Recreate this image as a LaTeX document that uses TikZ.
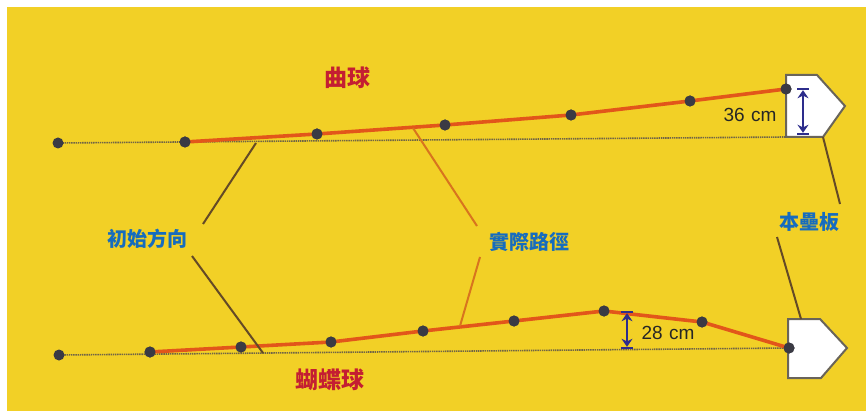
\documentclass[tikz,border=0pt]{standalone}
\usepackage{fontspec}
\setmainfont{Liberation Sans}
\newfontfamily\cjk{Noto Sans CJK TC}
\usetikzlibrary{arrows.meta}
\definecolor{bg}{RGB}{242,208,38}
\definecolor{pathc}{RGB}{226,86,26}
\definecolor{dotc}{RGB}{58,58,68}
\definecolor{guide}{RGB}{112,100,70}
\definecolor{leadb}{RGB}{100,74,38}
\definecolor{leado}{RGB}{216,116,30}
\definecolor{bluet}{RGB}{22,108,190}
\definecolor{redt}{RGB}{196,30,50}
\definecolor{navy}{RGB}{45,45,140}
\definecolor{platec}{RGB}{105,100,90}
\begin{document}
\begin{tikzpicture}[x=1pt,y=-1pt,
  dot/.style={circle,fill=dotc,inner sep=0pt,minimum size=11pt},
  actual/.style={draw=pathc,line width=3.6pt,line cap=round,line join=round},
  guideline/.style={draw=guide,line width=1.6pt,dash pattern=on 1.4pt off 0.8pt},
  leaderb/.style={draw=leadb,line width=2pt},
  leadero/.style={draw=leado,line width=2pt},
  plate/.style={draw=platec,fill=white,line width=2pt,line join=miter},
  meas/.style={draw=navy,line width=2.2pt,{Bar[width=12pt].Stealth[length=8pt,width=11pt]}-{Stealth[length=8pt,width=11pt].Bar[width=12pt]}},
  bluelbl/.style={text=bluet,font=\cjk\bfseries\fontsize{20}{24}\selectfont,inner sep=1pt},
  redlbl/.style={text=redt,font=\cjk\bfseries\fontsize{23}{27}\selectfont,inner sep=1pt},
  numlbl/.style={text=black!85,font=\fontsize{19}{22}\selectfont,inner sep=1pt}]
\path[use as bounding box] (0,0) rectangle (866,411);
\fill[white] (0,0) rectangle (866,411);
\fill[bg] (7,7) rectangle (866,411);

% ---------- top: curve ball ----------
\draw[plate] (786,75) -- (817,75) -- (845,106) -- (823,137) -- (786,137) -- cycle;
\coordinate (tg0) at (58,143);
\coordinate (tg1) at (786,137);
\draw[guideline] (tg0) -- (tg1);
\node[dot] (t0) at (58,143) {};
\node[dot] (t1) at (185,142) {};
\node[dot] (t2) at (317,134) {};
\node[dot] (t3) at (445,125) {};
\node[dot] (t4) at (571,115) {};
\node[dot] (t5) at (690,101) {};
\node[dot] (t6) at (786,89) {};
\draw[actual] (t1.center) -- (t2.center) -- (t3.center) -- (t4.center) -- (t5.center) -- (t6.center);
\foreach \n in {t1,t2,t3,t4,t5,t6} \node[dot] at (\n) {};
\coordinate (m36a) at (803,88);
\coordinate (m36b) at (803,135);
\draw[meas] (m36a) -- (m36b);
\node[numlbl] (l36) at (750,115) {36\,\,cm};
\node[redlbl] (curve) at (347,78) {曲球};

% ---------- bottom: knuckle ball ----------
\draw[plate] (788,319) -- (820,319) -- (847,348) -- (821,378) -- (788,378) -- cycle;
\coordinate (bg0) at (60,355);
\coordinate (bg1) at (789,348);
\draw[guideline] (bg0) -- (bg1);
\node[dot] (b0) at (59,355) {};
\node[dot] (b1) at (150,352) {};
\node[dot] (b2) at (241,347) {};
\node[dot] (b3) at (331,342) {};
\node[dot] (b4) at (423,331) {};
\node[dot] (b5) at (514,321) {};
\node[dot] (b6) at (604,311) {};
\node[dot] (b7) at (702,322) {};
\node[dot] (b8) at (789,348) {};
\draw[actual] (b1.center) -- (b2.center) -- (b3.center) -- (b4.center) -- (b5.center) -- (b6.center) -- (b7.center) -- (b8.center);
\foreach \n in {b1,b2,b3,b4,b5,b6,b7,b8} \node[dot] at (\n) {};
\coordinate (m28a) at (627,311);
\coordinate (m28b) at (627,349);
\draw[meas] (m28a) -- (m28b);
\node[numlbl] (l28) at (668,333) {28\,\,cm};
\node[redlbl] (knuckle) at (330,380) {蝴蝶球};

% ---------- labels and leaders ----------
\node[bluelbl] (init) at (147,239) {初始方向};
\node[bluelbl] (real) at (529,242) {實際路徑};
\node[bluelbl] (home) at (809,222) {本壘板};

\coordinate (i1) at (256,143);
\coordinate (i1e) at (203,224);
\coordinate (i2) at (263,353);
\coordinate (i2e) at (192,256);
\draw[leaderb] (i1) -- (i1e);
\draw[leaderb] (i2e) -- (i2);

\coordinate (r1) at (413,128);
\coordinate (r1e) at (477,226);
\coordinate (r2) at (460,326);
\coordinate (r2e) at (480,257);
\draw[leadero] (r1) -- (r1e);
\draw[leadero] (r2e) -- (r2);

\coordinate (h1) at (823,137);
\coordinate (h1e) at (840,204);
\coordinate (h2) at (801,319);
\coordinate (h2e) at (777,237);
\draw[leaderb] (h1) -- (h1e);
\draw[leaderb] (h2e) -- (h2);
\end{tikzpicture}
\end{document}
